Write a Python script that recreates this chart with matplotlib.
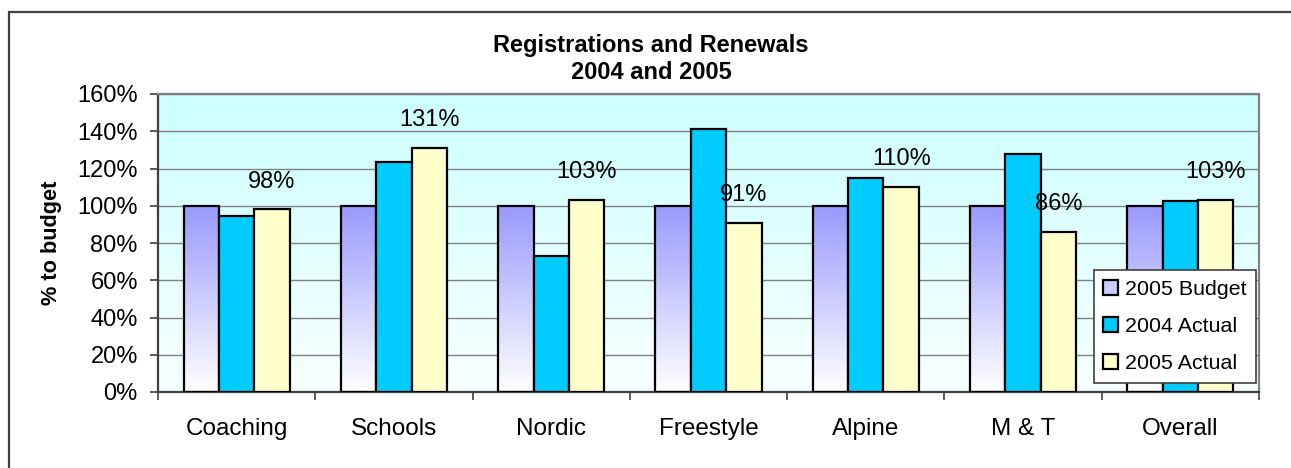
import numpy as np
import matplotlib
matplotlib.use("Agg")
import matplotlib.pyplot as plt
from matplotlib.patches import Rectangle
from matplotlib.ticker import PercentFormatter

categories = ["Coaching", "Schools", "Nordic", "Freestyle", "Alpine", "M & T", "Overall"]
budget_2005 = [100, 100, 100, 100, 100, 100, 100]
actual_2004 = [94.5, 123.5, 73, 141, 115, 128, 102.5]
actual_2005 = [98, 131, 103, 91, 110, 86, 103]
series_names = ["2005 Budget", "2004 Actual", "2005 Actual"]
title_text = "Registrations and Renewals\n2004 and 2005"
ylabel_text = "% to budget"

plt.rcParams['font.family'] = ['Liberation Sans', 'DejaVu Sans']

W, H = 1291, 468
fig = plt.figure(figsize=(W / 100, H / 100), dpi=100)
fig.patch.set_facecolor('white')

# outer chart frame (extends beyond image on right/bottom)
fig.add_artist(Rectangle((9 / W, -0.1), 1.2, 1 - 12 / H + 0.1, transform=fig.transFigure,
                         fill=False, edgecolor='#404040', linewidth=1.6))

ax = fig.add_axes([158 / W, 1 - 392 / H, (1259 - 158) / W, (392 - 94) / H])

n = len(categories)
x = np.arange(n)
bw = 0.225

# plot area background gradient
grad = np.linspace(0, 1, 256).reshape(-1, 1)
top_c = np.array([0.80, 1.0, 1.0])
bot_c = np.array([0.97, 1.0, 1.0])
bg = (bot_c + (top_c - bot_c) * grad)[:, None, :]
ax.imshow(bg, extent=[-0.5, n - 0.5, 0, 160], origin='lower',
          aspect='auto', zorder=0, interpolation='bilinear')

ax.set_yticks(np.arange(0, 161, 20))
ax.yaxis.set_major_formatter(PercentFormatter(decimals=0))
ax.grid(axis='y', color='#808080', linewidth=1.0, zorder=1)
ax.set_axisbelow(True)

bars_b = ax.bar(x - bw, budget_2005, bw, facecolor='none', edgecolor='black', linewidth=1.6, zorder=3)
bars_a4 = ax.bar(x, actual_2004, bw, color='#00CCFF', edgecolor='black', linewidth=1.6, zorder=3)
bars_a5 = ax.bar(x + bw, actual_2005, bw, color='#FFFFCC', edgecolor='black', linewidth=1.6, zorder=3)

# gradient fill for budget bars
gb_top = np.array([0.60, 0.60, 1.0])
gb_bot = np.array([1.0, 1.0, 1.0])
gimg = (gb_bot + (gb_top - gb_bot) * grad)[:, None, :]
for b in bars_b:
    x0, y0 = b.get_x(), b.get_y()
    im = ax.imshow(gimg, extent=[x0, x0 + b.get_width(), y0, y0 + b.get_height()],
                   origin='lower', aspect='auto', zorder=2.5, interpolation='bilinear')
    im.set_clip_path(b)
ax.set_xlim(-0.5, n - 0.5)
ax.set_ylim(0, 160)

# data labels on 2005 actual
for xi, v in zip(x, actual_2005):
    ax.annotate(f"{v:.0f}%", (xi + bw, v), xytext=(0, 20), textcoords='offset points',
                ha='center', va='center', fontsize=17, zorder=5)

ax.set_xticks(x)
ax.set_xticklabels(categories, fontsize=17.5)
ax.set_xticks(np.arange(-0.5, n, 1), minor=True)
ax.tick_params(axis='x', which='major', length=0, pad=19)
ax.tick_params(axis='x', which='minor', length=6, width=1.2, color='#404040', direction='out')
ax.tick_params(axis='y', length=5.5, width=1.2, color='#404040', labelsize=17, pad=9)

for s in ['left', 'bottom']:
    ax.spines[s].set_color('#404040')
    ax.spines[s].set_linewidth(1.6)
for s in ['top', 'right']:
    ax.spines[s].set_color('#808080')
    ax.spines[s].set_linewidth(1.6)

ax.set_ylabel(ylabel_text, fontsize=15.7, fontweight='bold', labelpad=11)

fig.text(651 / W, 1 - 59 / H, title_text, ha='center', va='center', fontsize=17,
         fontweight='bold', linespacing=1.18)

handles = [Rectangle((0, 0), 1, 1, facecolor='#CCCCFF', edgecolor='black', linewidth=1.6),
           Rectangle((0, 0), 1, 1, facecolor='#00CCFF', edgecolor='black', linewidth=1.6),
           Rectangle((0, 0), 1, 1, facecolor='#FFFFCC', edgecolor='black', linewidth=1.6)]
leg = ax.legend(handles, series_names, loc='lower right', bbox_to_anchor=(0.9973, 0.03),
                fontsize=15.4, handlelength=0.7, handleheight=0.7, handletextpad=0.3,
                fancybox=False, framealpha=1, edgecolor='#404040', borderpad=0.45,
                labelspacing=0.85, borderaxespad=0)
leg.get_frame().set_linewidth(1.2)
leg.set_zorder(6)

fig.savefig('out.png', dpi=100)
